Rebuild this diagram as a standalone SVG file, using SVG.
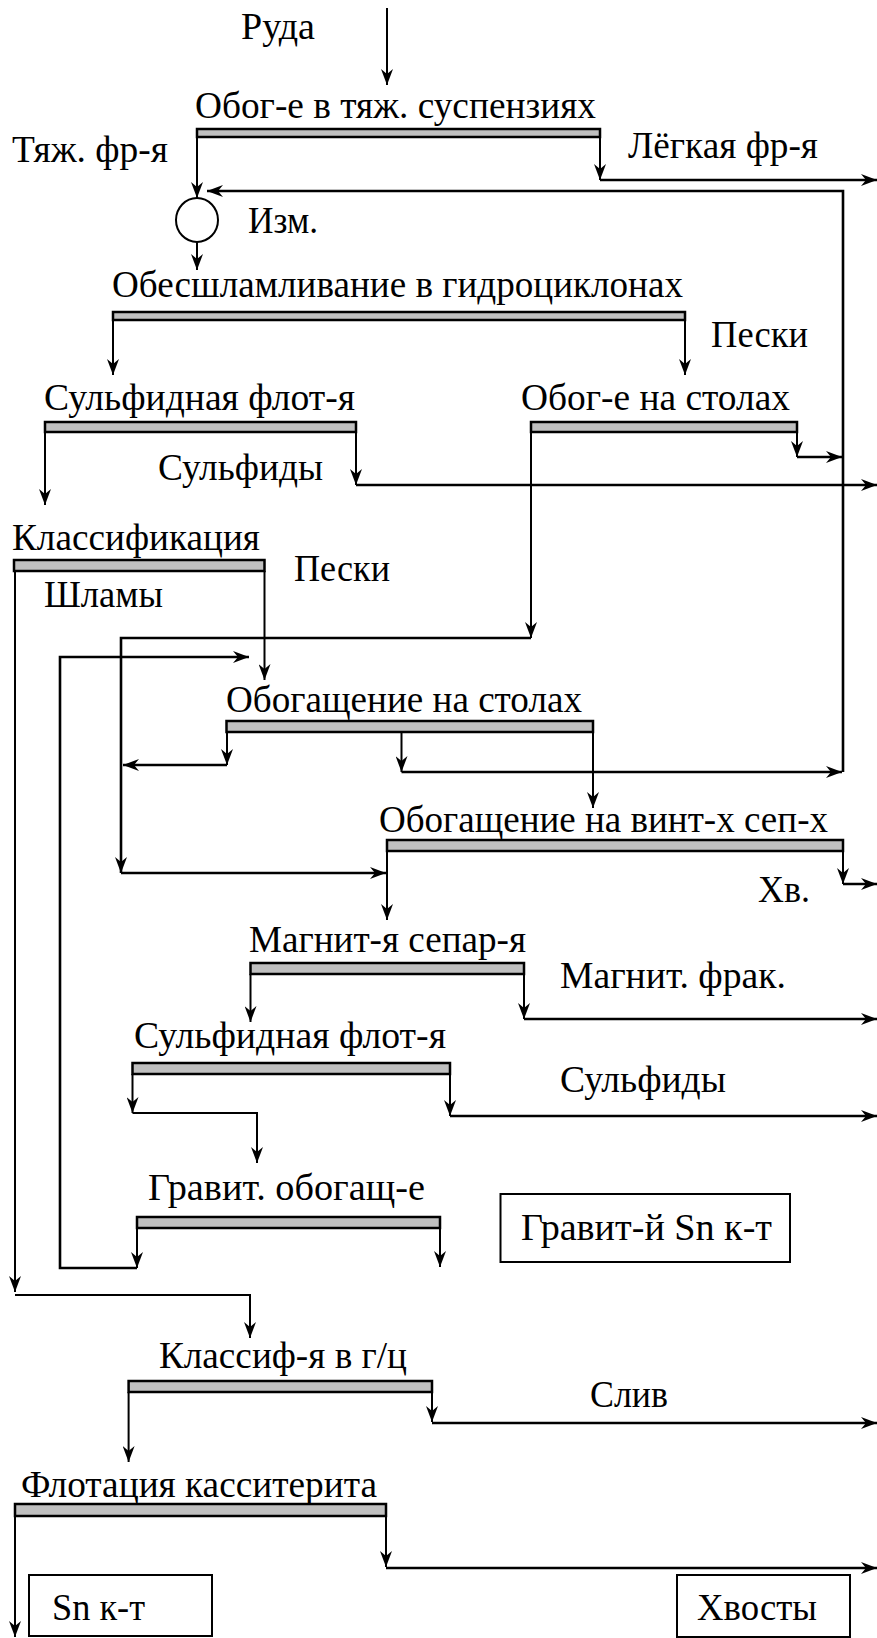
<svg xmlns="http://www.w3.org/2000/svg" width="877" height="1638" viewBox="0 0 877 1638">
<style>
text{font-family:'Times New Roman','Liberation Serif','DejaVu Serif',serif;font-size:38px;fill:#000}
.bar{fill:#c0c0c0;stroke:#000;stroke-width:2.5}
.ln{fill:none;stroke:#000;stroke-width:2}
.h{stroke-width:2.6}
.a{marker-end:url(#ah)}
.box{fill:#fff;stroke:#000;stroke-width:2}
</style>
<defs>
<marker id="ah" markerUnits="userSpaceOnUse" viewBox="0 0 16 12" markerWidth="16" markerHeight="12" refX="16" refY="6" orient="auto">
<path d="M0,0 L16,6 L0,12 L5,6 Z" fill="#000"/>
</marker>
</defs>
<rect width="877" height="1638" fill="#fff"/>
<g id="connectors">
<path class="ln a" d="M387,8 V85"/>
<path class="ln a" d="M197,137 V198"/>
<path class="ln a" d="M600,137 V180"/>
<path class="ln h a" d="M600,180 H877"/>
<path class="ln h a" d="M843,772 V191 H207"/>
<path class="ln a" d="M197,242 V270"/>
<path class="ln a" d="M113,320 V375"/>
<path class="ln a" d="M685,320 V375"/>
<path class="ln a" d="M45,432 V505"/>
<path class="ln a" d="M356,432 V485"/>
<path class="ln h a" d="M356,485 H877"/>
<path class="ln a" d="M797,432 V457"/>
<path class="ln h a" d="M797,457 H842"/>
<path class="ln a" d="M531,432 V638"/>
<path class="ln h a" d="M531,638 H121 V873"/>
<path class="ln h a" d="M121,873 H386"/>
<path class="ln a" d="M264.5,571 V680"/>
<path class="ln a" d="M15,571 V1292"/>
<path class="ln a" d="M15,1295 H250 V1338"/>
<path class="ln a" d="M137,1228 V1268"/>
<path class="ln h a" d="M137,1268 H60 V657 H249"/>
<path class="ln a" d="M227,732 V765"/>
<path class="ln h a" d="M227,765 H123"/>
<path class="ln a" d="M401.5,732 V772"/>
<path class="ln h a" d="M401.5,772 H842"/>
<path class="ln a" d="M593,732 V808"/>
<path class="ln a" d="M843,851 V884"/>
<path class="ln h a" d="M843,884 H877"/>
<path class="ln a" d="M387,851 V920"/>
<path class="ln a" d="M250.5,974 V1022"/>
<path class="ln a" d="M524,974 V1019"/>
<path class="ln h a" d="M524,1019 H877"/>
<path class="ln a" d="M132.5,1074 V1113"/>
<path class="ln a" d="M132.5,1113 H257 V1163"/>
<path class="ln a" d="M450,1074 V1116"/>
<path class="ln h a" d="M450,1116 H877"/>
<path class="ln a" d="M440,1228 V1267"/>
<path class="ln a" d="M128.6,1392 V1462"/>
<path class="ln a" d="M432,1392 V1422"/>
<path class="ln h a" d="M432,1423 H877"/>
<path class="ln a" d="M15,1516 V1637"/>
<path class="ln a" d="M386,1516 V1567"/>
<path class="ln h a" d="M386,1568 H877"/>
</g>
<g id="labels">
<text x="241" y="39" textLength="74" lengthAdjust="spacingAndGlyphs">Руда</text>
<text x="12" y="162" textLength="156" lengthAdjust="spacingAndGlyphs">Тяж. фр-я</text>
<text x="628" y="158" textLength="190" lengthAdjust="spacingAndGlyphs">Лёгкая фр-я</text>
<text x="248" y="233" textLength="70" lengthAdjust="spacingAndGlyphs">Изм.</text>
<text x="711" y="347" textLength="97" lengthAdjust="spacingAndGlyphs">Пески</text>
<text x="158" y="480" textLength="165" lengthAdjust="spacingAndGlyphs">Сульфиды</text>
<text x="294" y="581" textLength="96" lengthAdjust="spacingAndGlyphs">Пески</text>
<text x="44" y="607" textLength="119" lengthAdjust="spacingAndGlyphs">Шламы</text>
<text x="758" y="902" textLength="52" lengthAdjust="spacingAndGlyphs">Хв.</text>
<text x="560" y="988" textLength="226" lengthAdjust="spacingAndGlyphs">Магнит. фрак.</text>
<text x="560" y="1092" textLength="166" lengthAdjust="spacingAndGlyphs">Сульфиды</text>
<text x="590" y="1407" textLength="78" lengthAdjust="spacingAndGlyphs">Слив</text>
</g>
<g id="mixer"><ellipse cx="197" cy="220" rx="21" ry="22" fill="#fff" stroke="#000" stroke-width="2"/></g>
<g id="n1"><rect class="bar" x="197" y="129" width="403" height="8"/><text x="195" y="118" textLength="401" lengthAdjust="spacingAndGlyphs">Обог-е в тяж. суспензиях</text></g>
<g id="n2"><rect class="bar" x="113" y="312" width="572" height="8"/><text x="112" y="297" textLength="571" lengthAdjust="spacingAndGlyphs">Обесшламливание в гидроциклонах</text></g>
<g id="n3"><rect class="bar" x="45" y="422" width="311" height="10"/><text x="44" y="410" textLength="311" lengthAdjust="spacingAndGlyphs">Сульфидная флот-я</text></g>
<g id="n4"><rect class="bar" x="531" y="422" width="266" height="10"/><text x="521" y="410" textLength="269" lengthAdjust="spacingAndGlyphs">Обог-е на столах</text></g>
<g id="n5"><rect class="bar" x="14" y="560" width="250.5" height="11"/><text x="12" y="550" textLength="248" lengthAdjust="spacingAndGlyphs">Классификация</text></g>
<g id="n6"><rect class="bar" x="226.5" y="721" width="366.5" height="11"/><text x="226" y="712" textLength="356" lengthAdjust="spacingAndGlyphs">Обогащение на столах</text></g>
<g id="n7"><rect class="bar" x="387" y="840" width="456" height="11"/><text x="379" y="832" textLength="449" lengthAdjust="spacingAndGlyphs">Обогащение на винт-х сеп-х</text></g>
<g id="n8"><rect class="bar" x="250.5" y="963" width="273.5" height="11"/><text x="249" y="952" textLength="277" lengthAdjust="spacingAndGlyphs">Магнит-я сепар-я</text></g>
<g id="n9"><rect class="bar" x="132.5" y="1063" width="317.5" height="11"/><text x="134" y="1048" textLength="312" lengthAdjust="spacingAndGlyphs">Сульфидная флот-я</text></g>
<g id="n10"><rect class="bar" x="137" y="1217" width="303" height="11"/><text x="148" y="1200" textLength="277" lengthAdjust="spacingAndGlyphs">Гравит. обогащ-е</text></g>
<g id="n11"><rect class="box" x="500.5" y="1194" width="289.5" height="68"/><text x="521" y="1240" textLength="251" lengthAdjust="spacingAndGlyphs">Гравит-й Sn к-т</text></g>
<g id="n12"><rect class="bar" x="128.6" y="1381" width="303.4" height="11"/><text x="159" y="1368" textLength="248" lengthAdjust="spacingAndGlyphs">Классиф-я в г/ц</text></g>
<g id="n13"><rect class="bar" x="15" y="1504" width="371" height="12"/><text x="21" y="1497" textLength="356" lengthAdjust="spacingAndGlyphs">Флотация касситерита</text></g>
<g id="n14"><rect class="box" x="29" y="1575" width="183" height="61"/><text x="52" y="1620" textLength="93" lengthAdjust="spacingAndGlyphs">Sn к-т</text></g>
<g id="n15"><rect class="box" x="677" y="1575" width="173" height="62"/><text x="697" y="1620" textLength="120" lengthAdjust="spacingAndGlyphs">Хвосты</text></g>
</svg>
